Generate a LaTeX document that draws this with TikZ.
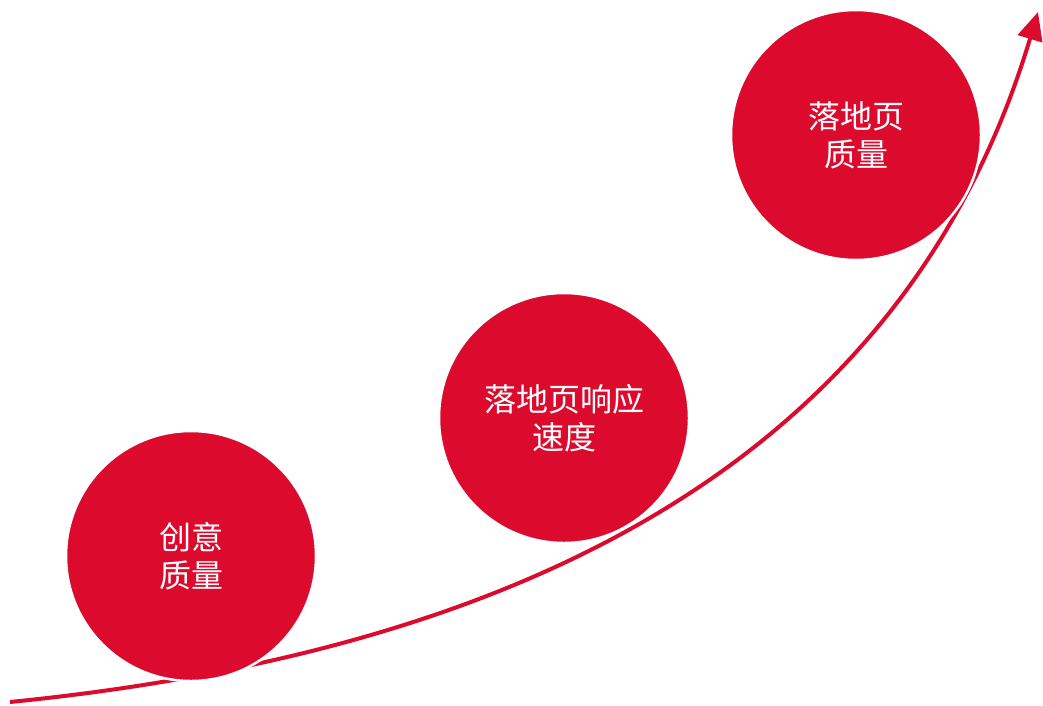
\documentclass[tikz,border=0pt]{standalone}
\usepackage{fontspec}
\newfontfamily\cjk{Noto Sans CJK SC}
\usetikzlibrary{arrows.meta}
\definecolor{brandred}{RGB}{220,11,46}
\tikzset{
  ball/.style={circle,fill=brandred,draw=white,line width=2.5pt,minimum size=250pt,inner sep=0pt,text=white,align=center,
    font=\cjk\fontsize{32pt}{38pt}\selectfont},
  growth/.style={draw=brandred,line width=4pt,-{Triangle[length=28pt,width=25pt]}}
}
\begin{document}
\begin{tikzpicture}[x=1pt,y=-1pt]
\useasboundingbox (0,0) rectangle (1043,705);
\coordinate (s) at (10,702);
\coordinate (e) at (1038,12);
\draw[growth] (s) .. controls (580,645) and (915,422) .. (e);
\node[ball] (c1) at (191,556) {创意\\质量};
\node[ball] (c2) at (564,418) {落地页响应\\速度};
\node[ball] (c3) at (856,135) {落地页\\质量};
\end{tikzpicture}
\end{document}
